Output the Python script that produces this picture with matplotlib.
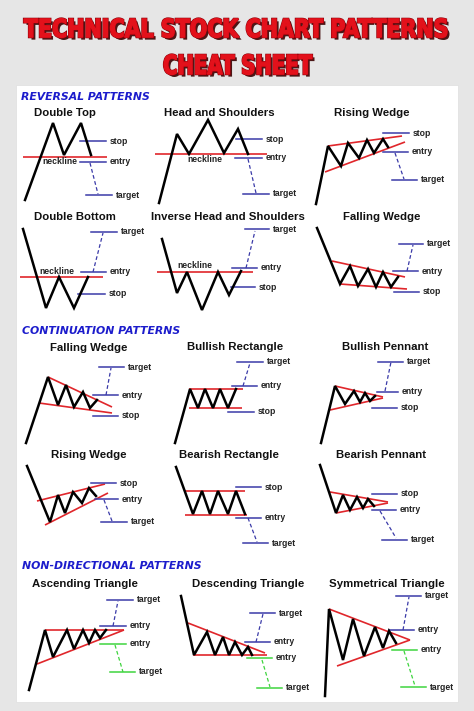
"""
plot.py
-------
Technical stock chart patterns cheat sheet, drawn with matplotlib on a
pixel-sized canvas (474 x 711).
"""

# ------------------------------------------------------------
# Imports
# ------------------------------------------------------------
import matplotlib
matplotlib.use("Agg")
import matplotlib.pyplot as plt
import matplotlib.patheffects as pe
from matplotlib.patches import Rectangle, PathPatch
from matplotlib.textpath import TextPath
from matplotlib.font_manager import FontProperties
from matplotlib.transforms import Affine2D


# ------------------------------------------------------------
# Data (pixel coordinates)
# ------------------------------------------------------------
TITLE_LINES = ["TECHNICAL STOCK CHART PATTERNS", "CHEAT SHEET"]
# (left, right, cap top, baseline) for each title line
TITLE_BOXES = [(24, 447, 18.5, 37.5), (164, 312, 54.5, 74.5)]

SECTIONS = [("REVERSAL PATTERNS", 21, 97),
            ("CONTINUATION PATTERNS", 22, 331),
            ("NON-DIRECTIONAL PATTERNS", 22, 566)]

PATTERN_TITLES = [("Double Top", 65, 113), ("Head and Shoulders", 219, 113),
                  ("Rising Wedge", 372, 113),
                  ("Double Bottom", 75, 217), ("Inverse Head and Shoulders", 228, 217),
                  ("Falling Wedge", 382, 217),
                  ("Falling Wedge", 89, 348), ("Bullish Rectangle", 235, 347),
                  ("Bullish Pennant", 385, 347),
                  ("Rising Wedge", 89, 455), ("Bearish Rectangle", 229, 455),
                  ("Bearish Pennant", 381, 455),
                  ("Ascending Triangle", 85, 584), ("Descending Triangle", 248, 584),
                  ("Symmetrical Triangle", 387, 584)]

NECKLINE_LABELS = [(60, 162), (205, 160), (57, 272), (195, 266)]

# price paths
double_top_path = [(25, 200), (53, 123), (64, 155), (81, 123), (91, 155)]
head_shoulders_path = [(159, 203), (177, 134), (189, 154), (208, 120), (224, 153),
                       (238, 129), (248, 154)]
rising_wedge_rev_path = [(316, 204), (328, 146), (341, 166), (348, 143), (359, 158),
                         (367, 140), (374, 153), (383, 139), (388, 147)]
double_bottom_path = [(23, 229), (46, 308), (59, 277), (74, 308), (88, 277)]
inv_head_shoulders_path = [(162, 239), (177, 293), (187, 272), (202, 310), (218, 272),
                           (229, 295), (241, 271)]
falling_wedge_rev_path = [(317, 228), (340, 284), (350, 266), (358, 286), (368, 269),
                          (376, 287), (383, 272), (391, 287), (398, 277)]
falling_wedge_cont_path = [(26, 443), (48, 377), (58, 405), (66, 385), (74, 407),
                           (83, 392), (90, 408), (97, 400)]
bullish_rect_path = [(175, 443), (190, 389), (198, 408), (205, 389), (213, 408),
                     (220, 389), (228, 408), (236, 389)]
bullish_pennant_path = [(321, 443), (335, 386), (345, 404), (354, 391), (360, 402),
                        (365, 393), (370, 401), (375, 396)]
rising_wedge_cont_path = [(27, 466), (50, 522), (58, 495), (65, 513), (73, 492),
                          (82, 503), (89, 488), (96, 496)]
bearish_rect_path = [(176, 467), (193, 514), (202, 491), (210, 514), (218, 491),
                     (228, 514), (236, 491), (245, 514)]
bearish_pennant_path = [(320, 465), (336, 513), (343, 495), (350, 510), (357, 497),
                        (363, 508), (368, 499), (374, 506)]
ascending_tri_path = [(29, 690), (45, 630), (53, 657), (67, 630), (74, 649), (83, 630),
                      (89, 643), (95, 630), (100, 638), (106, 630)]
descending_tri_path = [(181, 596), (194, 655), (207, 632), (215, 655), (223, 637),
                       (229, 655), (235, 642), (242, 655), (248, 647), (252, 655)]
symmetrical_tri_path = [(325, 696), (329, 609), (343, 660), (353, 619), (364, 656),
                        (375, 627), (383, 648), (389, 631), (396, 643)]

# red trend / neck lines
trend_lines = [
    [(23, 157), (107, 157)],
    [(155, 154), (267, 154)],
    [(328, 146), (402, 136)], [(325, 172), (405, 142)],
    [(20, 277), (103, 277)],
    [(157, 272), (253, 272)],
    [(332, 261), (405, 277)], [(340, 284), (407, 289)],
    [(48, 377), (112, 407)], [(39, 403), (112, 413)],
    [(189, 389), (243, 389)], [(189, 408), (242, 408)],
    [(335, 386), (383, 397)], [(330, 410), (383, 398)],
    [(45, 525), (108, 493)], [(37, 501), (105, 484)],
    [(185, 491), (245, 491)], [(185, 515), (247, 515)],
    [(330, 492), (388, 502)], [(336, 513), (388, 503)],
    [(45, 630), (124, 630)], [(37, 664), (124, 630)],
    [(188, 623), (265, 653)], [(193, 655), (267, 655)],
    [(329, 609), (410, 640)], [(337, 666), (410, 640)],
]

# level lines: (label, x0, x1, y, colour key)
level_lines = [
    ("stop", 80, 106, 141, "b"), ("entry", 80, 106, 162, "b"), ("target", 86, 112, 195, "b"),
    ("stop", 236, 262, 139, "b"), ("entry", 235, 262, 158, "b"), ("target", 243, 269, 194, "b"),
    ("stop", 383, 409, 133, "b"), ("entry", 383, 408, 152, "b"), ("target", 392, 417, 180, "b"),
    ("target", 91, 117, 232, "b"), ("entry", 81, 106, 272, "b"), ("stop", 78, 105, 294, "b"),
    ("target", 245, 269, 229, "b"), ("entry", 232, 257, 268, "b"), ("stop", 231, 255, 287, "b"),
    ("target", 399, 423, 244, "b"), ("entry", 393, 418, 271, "b"), ("stop", 394, 419, 292, "b"),
    ("target", 99, 124, 367, "b"), ("entry", 93, 118, 395, "b"), ("stop", 93, 118, 416, "b"),
    ("target", 237, 263, 362, "b"), ("entry", 232, 257, 386, "b"), ("stop", 228, 254, 412, "b"),
    ("target", 378, 403, 362, "b"), ("entry", 377, 398, 392, "b"), ("stop", 372, 397, 408, "b"),
    ("stop", 91, 116, 483, "b"), ("entry", 95, 118, 499, "b"), ("target", 101, 127, 522, "b"),
    ("stop", 236, 261, 487, "b"), ("entry", 236, 261, 518, "b"), ("target", 243, 268, 543, "b"),
    ("stop", 372, 397, 494, "b"), ("entry", 372, 396, 510, "b"), ("target", 382, 407, 540, "b"),
    ("target", 107, 133, 600, "b"), ("entry", 100, 126, 626, "b"),
    ("entry", 100, 126, 644, "g"), ("target", 110, 135, 672, "g"),
    ("target", 250, 275, 613, "b"), ("entry", 245, 270, 642, "b"),
    ("entry", 247, 272, 658, "g"), ("target", 257, 282, 688, "g"),
    ("target", 396, 421, 596, "b"), ("entry", 389, 414, 630, "b"),
    ("entry", 392, 417, 650, "g"), ("target", 401, 426, 687, "g"),
]

# dashed projection lines: (start, end, colour key)
dash_lines = [
    ((90, 163), (98, 194), "b"), ((248, 159), (256, 193), "b"), ((395, 153), (404, 179), "b"),
    ((93, 272), (103, 233), "b"), ((246, 268), (255, 231), "b"), ((407, 271), (413, 245), "b"),
    ((106, 395), (111, 368), "b"), ((243, 386), (250, 363), "b"), ((385, 391), (391, 362), "b"),
    ((104, 500), (112, 521), "b"), ((248, 518), (257, 542), "b"), ((380, 511), (396, 538), "b"),
    ((113, 626), (118, 601), "b"), ((115, 645), (123, 672), "g"),
    ((256, 642), (263, 614), "b"), ((262, 660), (270, 687), "g"),
    ((403, 630), (409, 597), "b"), ((404, 651), (415, 686), "g"),
]

# ------------------------------------------------------------
# Styles
# ------------------------------------------------------------
W, H = 474, 711
BG = "#e6e6e6"
RED = "#e0262b"
LEVEL_COLORS = {"b": "#3a3aa8", "g": "#3ed43e"}
SECTION_BLUE = "#1c1ccc"
TITLE_RED = "#e3111b"
LABEL_SIZE = 6.2

all_paths = [double_top_path, head_shoulders_path, rising_wedge_rev_path,
             double_bottom_path, inv_head_shoulders_path, falling_wedge_rev_path,
             falling_wedge_cont_path, bullish_rect_path, bullish_pennant_path,
             rising_wedge_cont_path, bearish_rect_path, bearish_pennant_path,
             ascending_tri_path, descending_tri_path, symmetrical_tri_path]


def seg_xy(points):
    return [p[0] for p in points], [p[1] for p in points]


def fitted_title(ax, text, box):
    """Draw text as a path squeezed into the (left, right, top, baseline) box."""
    left, right, top, base = box
    tp = TextPath((0, 0), text, size=20,
                  prop=FontProperties(family="DejaVu Sans", weight="bold"))
    bb = tp.get_extents()
    tr = (Affine2D().translate(-bb.x0, -bb.y0)
          .scale((right - left) / bb.width, -(base - top) / bb.height)
          .translate(left, base))
    patch = PathPatch(tr.transform_path(tp), facecolor=TITLE_RED,
                      edgecolor=TITLE_RED, lw=0.9, zorder=5)
    patch.set_path_effects([
        pe.SimplePatchShadow(offset=(1.8, -1.8), shadow_rgbFace="#3a0000", alpha=0.9),
        pe.Stroke(linewidth=1.6, foreground="#8a0008"),
        pe.Normal(),
    ])
    ax.add_patch(patch)


# ------------------------------------------------------------
# Figure
# ------------------------------------------------------------
fig = plt.figure(figsize=(W / 100, H / 100), dpi=100, facecolor=BG)
ax = fig.add_axes([0, 0, 1, 1])
ax.set_xlim(0, W)
ax.set_ylim(H, 0)
ax.axis("off")

# white panel
ax.add_patch(Rectangle((16, 85), 442, 617, facecolor="white",
                       edgecolor="#dedede", lw=0.5, zorder=0))

# title
for line, box in zip(TITLE_LINES, TITLE_BOXES):
    fitted_title(ax, line, box)

# section headers
for name, x, y in SECTIONS:
    ax.text(x, y, name, ha="left", va="center", fontsize=7.8, weight="bold",
            style="italic", color=SECTION_BLUE, family="DejaVu Sans")

# pattern titles
for name, x, y in PATTERN_TITLES:
    ax.text(x, y, name, ha="center", va="center", fontsize=8.2, weight="bold",
            color="#111111", family="Liberation Sans")

# red lines
for seg in trend_lines:
    xs, ys = seg_xy(seg)
    ax.plot(xs, ys, color=RED, lw=1.2, solid_capstyle="butt", zorder=2)

# price paths
for path in all_paths:
    xs, ys = seg_xy(path)
    ax.plot(xs, ys, color="black", lw=1.8, solid_joinstyle="miter", zorder=3)

# level lines with labels
for label, x0, x1, y, c in level_lines:
    ax.plot([x0, x1], [y, y], color=LEVEL_COLORS[c], lw=1.1, zorder=2)
    ax.text(x1 + 4, y, label, ha="left", va="center", fontsize=LABEL_SIZE,
            weight="bold", color="#222222", family="Liberation Sans")

# dashed projections
for p0, p1, c in dash_lines:
    ax.plot([p0[0], p1[0]], [p0[1], p1[1]], color=LEVEL_COLORS[c], lw=0.9,
            ls=(0, (3, 2)), zorder=2)

# neckline labels
for x, y in NECKLINE_LABELS:
    ax.text(x, y, "neckline", ha="center", va="center", fontsize=LABEL_SIZE,
            weight="bold", color="#222222", family="Liberation Sans", zorder=4)

fig.savefig("out.png", dpi=100, facecolor=BG)
